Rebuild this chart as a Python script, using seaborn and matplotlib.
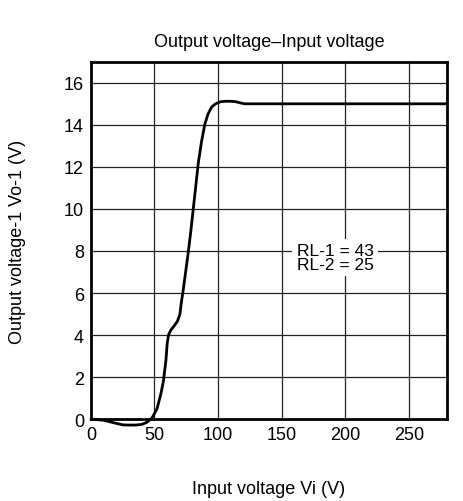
import numpy as np
import pandas as pd
import matplotlib
matplotlib.use('Agg')
import matplotlib.pyplot as plt
import seaborn as sns

# punkty
vin = [0, 10, 20, 25, 30, 35, 40, 44, 48, 52, 55, 57, 59, 60, 61, 63, 65, 68, 70, 71, 72.5,
       74.5, 76.5, 78.5, 80.5, 82.5, 84.5, 87, 89.5, 92, 95, 98, 102, 106, 110, 114, 117, 121,
       150, 200, 250, 280]
vout = [0, -0.05, -0.2, -0.27, -0.28, -0.28, -0.25, -0.15, 0.05, 0.5, 1.2, 1.8, 2.8, 3.6, 4.0,
        4.25, 4.4, 4.65, 5.0, 5.5, 6.1, 7.0, 7.9, 8.9, 10.0, 11.1, 12.2, 13.2, 14.0, 14.5, 14.85,
        15.0, 15.1, 15.12, 15.12, 15.1, 15.05, 15.0, 15.0, 15.0, 15.0, 15.0]
xticks = [0, 50, 100, 150, 200, 250]
yticks = [0, 2, 4, 6, 8, 10, 12, 14, 16]

df = pd.DataFrame({'vi': vin, 'vo': vout})

sns.set_style('white')
plt.rcParams['font.family'] = ['Liberation Sans', 'DejaVu Sans']
plt.rcParams['text.color'] = 'black'
plt.rcParams['axes.labelcolor'] = 'black'

fig = plt.figure(figsize=(4.64, 5.02), dpi=100)
ax = fig.add_axes([0.196, 0.163, 0.767, 0.712])

sns.lineplot(data=df, x='vi', y='vo', ax=ax, color='black', linewidth=2.0, zorder=3)
ax.lines[0].set_clip_on(False)

ax.set_xlim(0, 280)
ax.set_ylim(0, 17)
ax.set_xticks(xticks)
ax.set_yticks(yticks)
ax.grid(True, color='#222222', linewidth=0.9)
ax.set_axisbelow(True)
ax.tick_params(length=0, pad=5, labelsize=13, colors='black')
for s in ax.spines.values():
    s.set_visible(True)
    s.set_color('black')
    s.set_linewidth(2.0)

ax.text(192, 7.7, 'RL-1 = 43\nRL-2 = 25', ha='center', va='center', fontsize=12.5,
        linespacing=0.88, zorder=4,
        bbox=dict(facecolor='white', edgecolor='none', pad=3))

ax.set_title('Output voltage–Input voltage', fontsize=13, pad=11)
ax.set_xlabel('Input voltage Vi (V)', fontsize=13)
ax.set_ylabel('Output voltage-1 Vo-1 (V)', fontsize=13)
ax.xaxis.set_label_coords(0.5, -0.171)
ax.yaxis.set_label_coords(-0.183, 0.5)

fig.savefig('out.png', dpi=100)
